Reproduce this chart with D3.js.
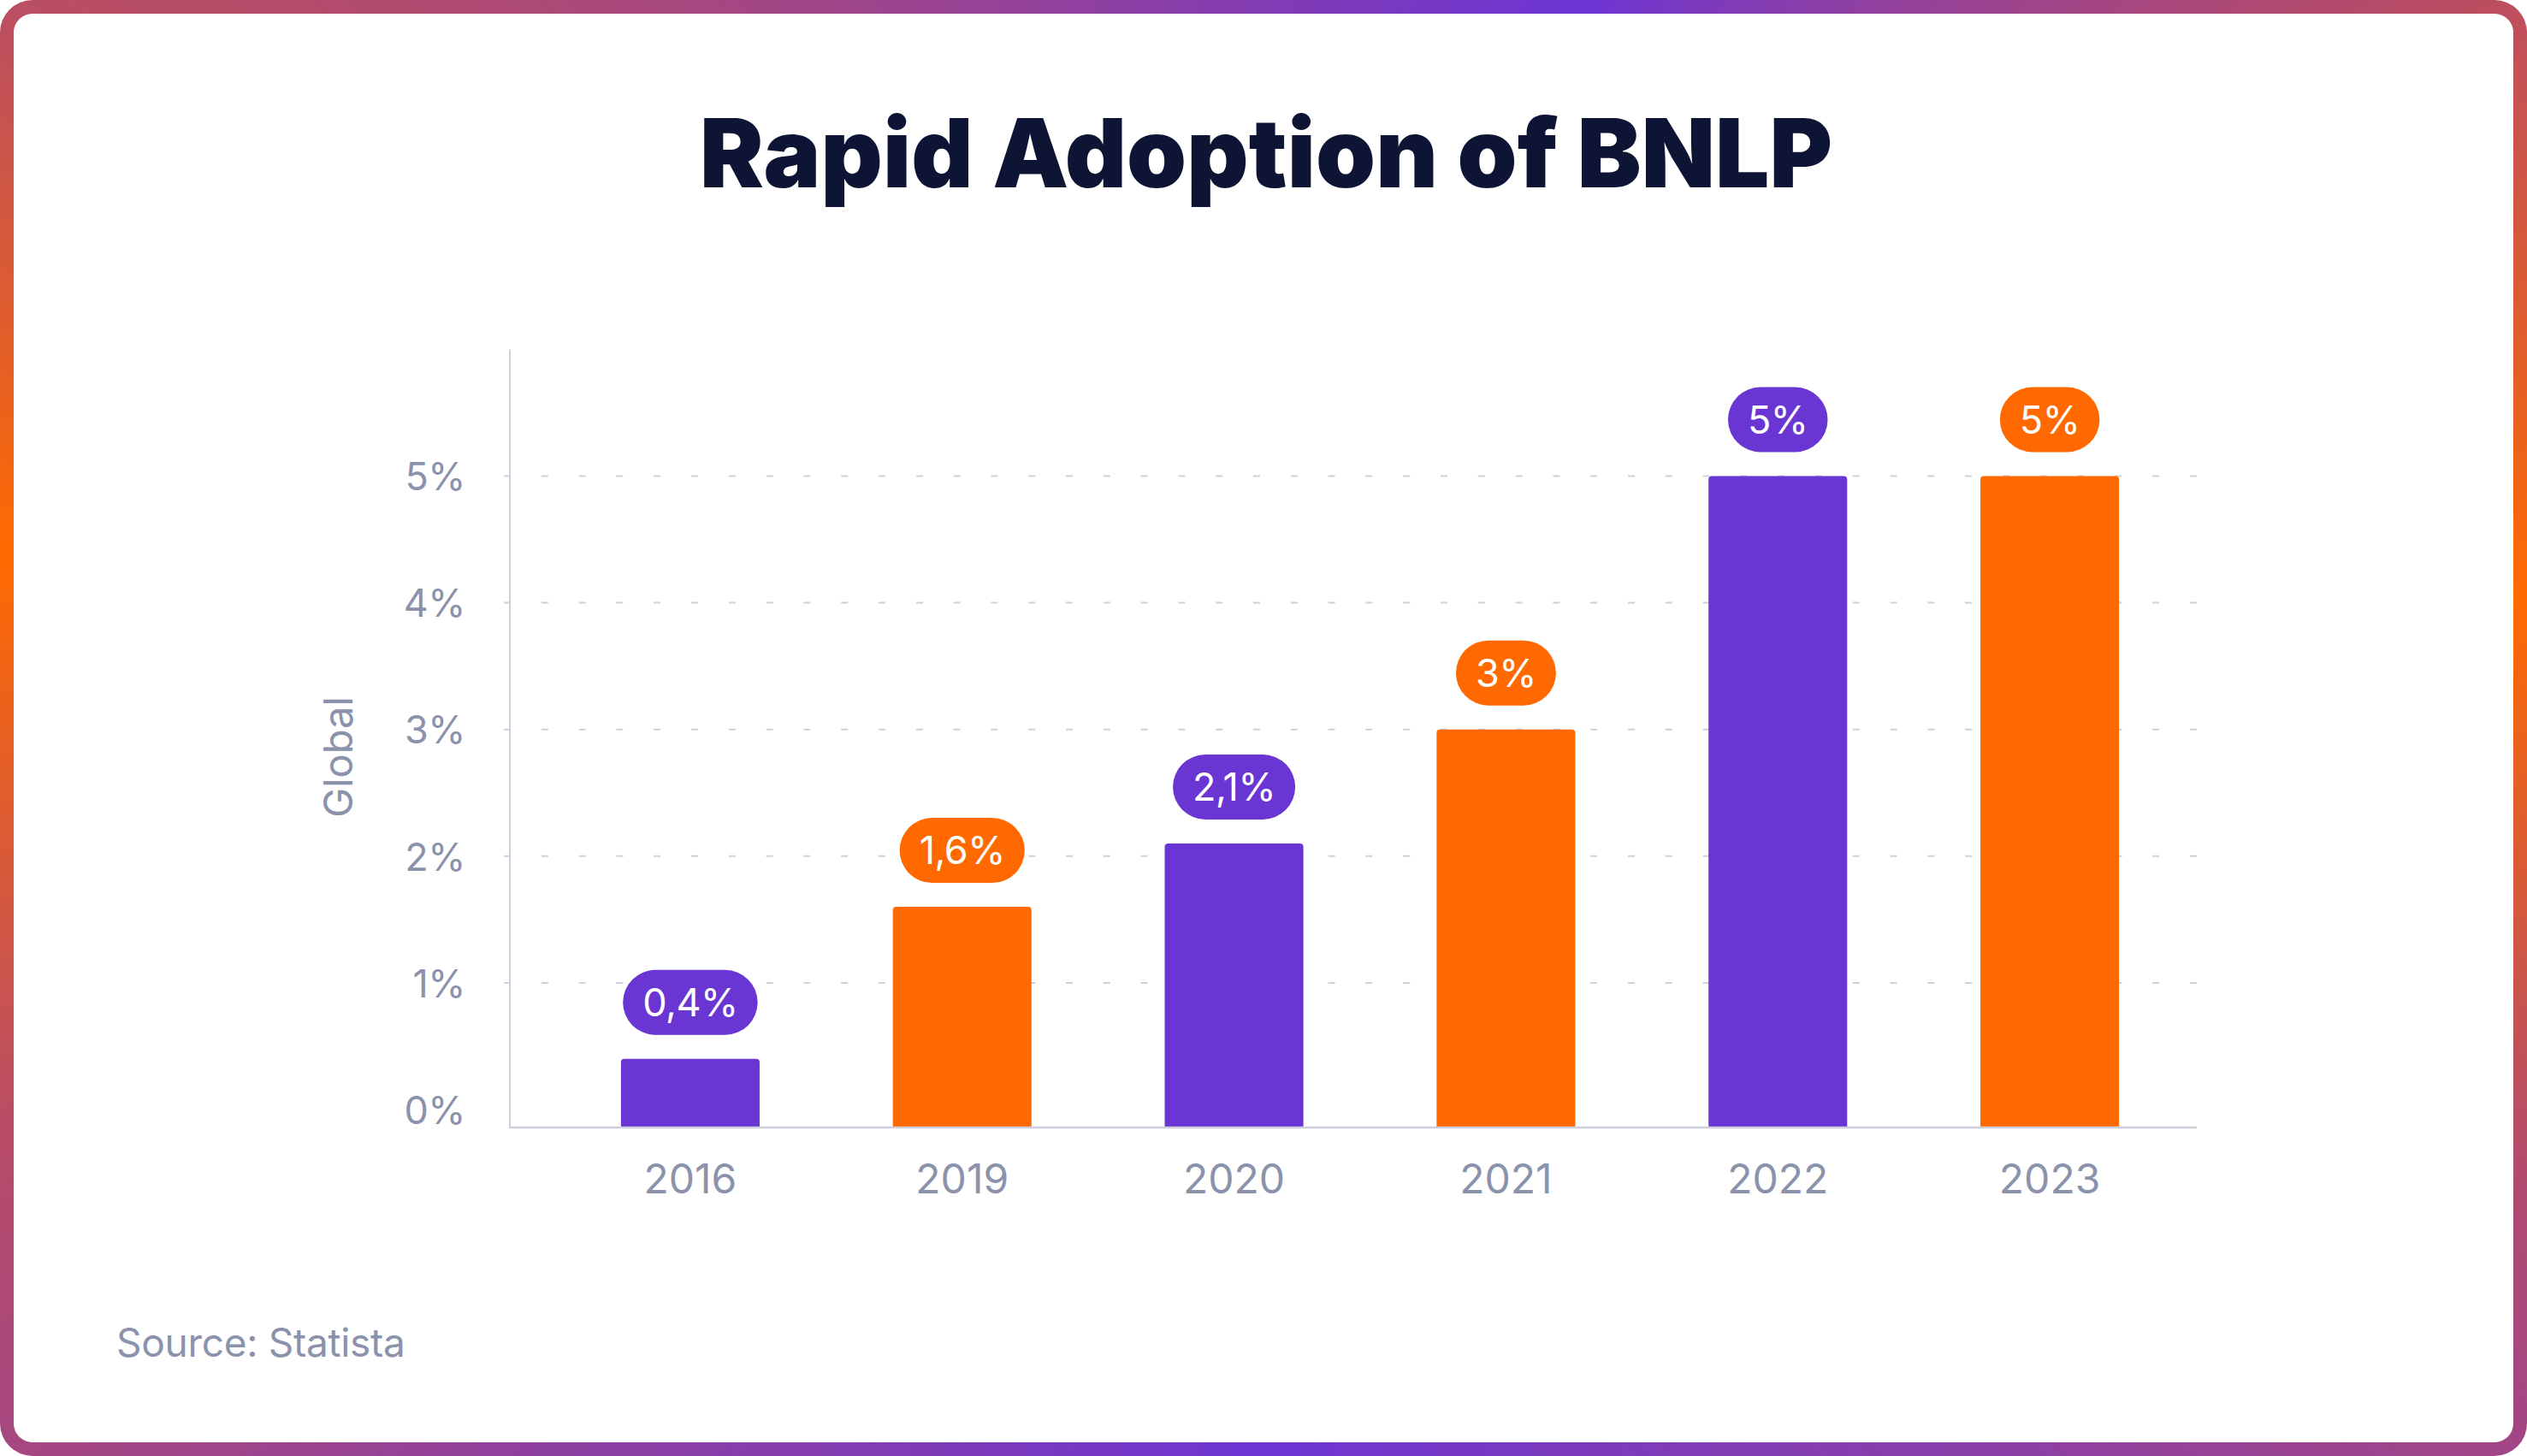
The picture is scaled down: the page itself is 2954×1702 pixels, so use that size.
<!DOCTYPE html>
<html><head><meta charset="utf-8">
<script src="https://cdn.jsdelivr.net/npm/d3@7"></script>
<style>
html,body{margin:0;padding:0;background:#fff;width:2954px;height:1702px;overflow:hidden;}
#frame{position:absolute;left:0;top:0;width:2954px;height:1702px;border-radius:38px;
background:conic-gradient(from 0deg at 50% 50%, #823cb3 0deg, #6c35d4 24deg, #b84c66 58deg, #ff6a00 84deg, #b04a70 110deg, #8a3fa8 135deg, #6c35d4 180deg, #8e40a0 225deg, #b84c68 252deg, #ff6a00 278deg, #ba4e62 300deg, #823cb3 360deg);}
#inner{position:absolute;left:16px;top:16px;right:16px;bottom:16px;background:#fff;border-radius:22px;}
svg{position:absolute;left:0;top:0;}
text{font-family:Inter, "Noto Sans", sans-serif;}
</style></head><body>
<div id="frame"><div id="inner"></div></div>
<svg id="chart" width="2954" height="1702"></svg>
<script>
const title = "Rapid Adoption of BNLP";
const yAxisTitle = "Global";
const source = "Source: Statista";
const categories = ["2016", "2019", "2020", "2021", "2022", "2023"];
const values = [0.4, 1.6, 2.1, 3, 5, 5];
const valueLabels = ["0,4%", "1,6%", "2,1%", "3%", "5%", "5%"];
const yTicks = [0, 1, 2, 3, 4, 5];
const yTickLabels = ["0%", "1%", "2%", "3%", "4%", "5%"];
const barColors = ["#6a36d3", "#ff6900", "#6a36d3", "#ff6900", "#6a36d3", "#ff6900"];

const svg = d3.select("#chart");
const gray = "#8b92ab";
const axisColor = "#cfd0de";

const x = d3.scaleBand().domain(categories).range([648, 2555]).paddingInner(0.49).paddingOuter(0.245);
const y = d3.scaleLinear().domain([0, 6]).range([1297, 408.4]);
const baseY = 1318;
const axisX = 596;
const gridEnd = 2568;

// title
svg.append("text").attr("x", 818).attr("y", 219)
  .attr("textLength", 1324).attr("lengthAdjust", "spacing")
  .style("font-size", "112px").style("font-weight", 900).attr("fill", "#0e1534")
  .text(title);

// gridlines
svg.append("g").selectAll("line").data(yTicks.filter(d => d > 0)).join("line")
  .attr("x1", 589).attr("x2", gridEnd)
  .attr("y1", d => y(d)).attr("y2", d => y(d))
  .attr("stroke", axisColor).attr("stroke-width", 2).attr("stroke-dasharray", "8 35.8");

// y tick labels via axis
const yAxis = d3.axisLeft(y).tickValues(yTicks).tickFormat((d, i) => yTickLabels[i]).tickSize(0).tickPadding(0);
const gy = svg.append("g").attr("transform", "translate(544,0)").call(yAxis);
gy.select(".domain").remove();
gy.selectAll("text").attr("fill", gray).style("font-size", "45px").style("letter-spacing", "-0.5px")
  .attr("dy", "0.36em").attr("x", 0);

// bars
const r = 4;
svg.append("g").selectAll("path").data(values).join("path")
  .attr("d", (v, i) => {
    const x0 = x(categories[i]), w = x.bandwidth(), top = y(v), bot = baseY;
    return `M${x0},${bot}V${top + r}Q${x0},${top} ${x0 + r},${top}H${x0 + w - r}Q${x0 + w},${top} ${x0 + w},${top + r}V${bot}Z`;
  })
  .attr("fill", (v, i) => barColors[i]);

// axes lines
svg.append("line").attr("x1", axisX).attr("x2", axisX).attr("y1", y(6)).attr("y2", baseY + 1)
  .attr("stroke", axisColor).attr("stroke-width", 2);
svg.append("line").attr("x1", axisX - 1).attr("x2", gridEnd).attr("y1", baseY).attr("y2", baseY)
  .attr("stroke", axisColor).attr("stroke-width", 2.5);

// x labels via axis
const xAxis = d3.axisBottom(x).tickSize(0).tickPadding(0);
const gx = svg.append("g").attr("transform", "translate(0,1395)").call(xAxis);
gx.select(".domain").remove();
gx.selectAll("text").attr("fill", gray).style("font-size", "48px").attr("dy", 0).attr("y", 0);

// pills
const pillH = 76, pillFont = 45, padX = 23;
const pills = svg.append("g").selectAll("g").data(values).join("g")
  .attr("transform", (v, i) => `translate(${x(categories[i]) + x.bandwidth() / 2},${y(v) - 66})`);
pills.append("text").attr("text-anchor", "middle").attr("dy", "0.36em")
  .attr("fill", "#fff").style("font-size", pillFont + "px").style("letter-spacing", "-0.5px")
  .text((v, i) => valueLabels[i]);
pills.each(function (v, i) {
  const g = d3.select(this);
  const tw = g.select("text").node().getComputedTextLength();
  const w = tw + padX * 2;
  g.insert("rect", "text").attr("x", -w / 2).attr("y", -pillH / 2).attr("width", w).attr("height", pillH)
    .attr("rx", pillH / 2).attr("fill", barColors[i]);
});

// y axis title
svg.append("text").attr("transform", "translate(412,885) rotate(-90)").attr("text-anchor", "middle")
  .attr("fill", gray).style("font-size", "47px").text(yAxisTitle);

// source
svg.append("text").attr("x", 136).attr("y", 1586).attr("fill", gray).style("font-size", "46px")
  .style("letter-spacing", "-0.3px").text(source);
</script>
</body></html>
